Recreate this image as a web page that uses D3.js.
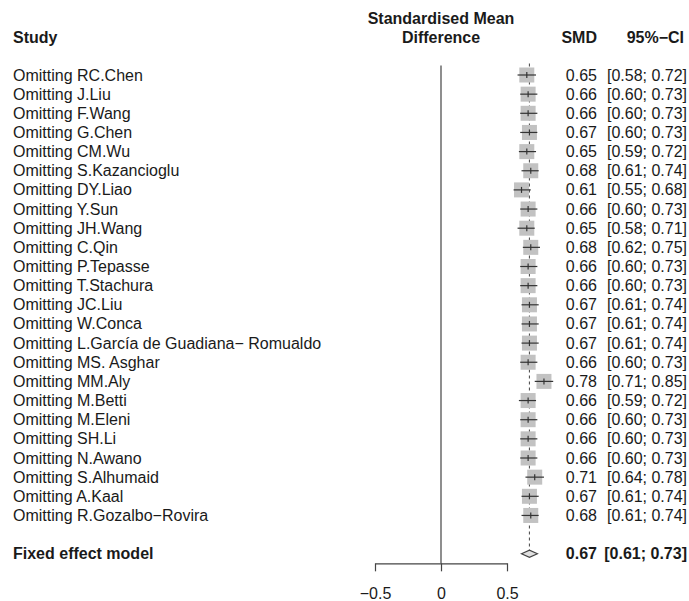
<!DOCTYPE html>
<html>
<head>
<meta charset="utf-8">
<script src="https://cdn.jsdelivr.net/npm/d3@7"></script>
<style>
body { margin: 0; background: #fff; }
text { font-family: "Liberation Sans", Arial, Helvetica, sans-serif; fill: #1a1a1a; }
</style>
</head>
<body>
<div id="canvas"></div>
<script>
// DATA -----------------------------------------------------
var studies = ["RC.Chen", "J.Liu", "F.Wang", "G.Chen", "CM.Wu", "S.Kazancioglu", "DY.Liao", "Y.Sun",
  "JH.Wang", "C.Qin", "P.Tepasse", "T.Stachura", "JC.Liu", "W.Conca",
  "L.García de Guadiana\u2212 Romualdo", "MS. Asghar", "MM.Aly", "M.Betti", "M.Eleni", "SH.Li",
  "N.Awano", "S.Alhumaid", "A.Kaal", "R.Gozalbo\u2212Rovira"];
var smd   = [0.65, 0.66, 0.66, 0.67, 0.65, 0.68, 0.61, 0.66, 0.65, 0.68, 0.66, 0.66, 0.67, 0.67, 0.67, 0.66, 0.78, 0.66, 0.66, 0.66, 0.66, 0.71, 0.67, 0.68];
var lower = [0.58, 0.60, 0.60, 0.60, 0.59, 0.61, 0.55, 0.60, 0.58, 0.62, 0.60, 0.60, 0.61, 0.61, 0.61, 0.60, 0.71, 0.59, 0.60, 0.60, 0.60, 0.64, 0.61, 0.61];
var upper = [0.72, 0.73, 0.73, 0.73, 0.72, 0.74, 0.68, 0.73, 0.71, 0.75, 0.73, 0.73, 0.74, 0.74, 0.74, 0.73, 0.85, 0.72, 0.73, 0.73, 0.73, 0.78, 0.74, 0.74];
var pooled = { label: "Fixed effect model", smd: 0.67, lower: 0.61, upper: 0.73 };
var tick_values = [-0.5, 0, 0.5];

// STRUCTURE ------------------------------------------------
var W = 689, H = 601;
var fs = 16;
var svg = d3.select("#canvas").append("svg")
  .attr("width", W).attr("height", H);

var rows = studies.map((s, i) => ({ label: "Omitting " + s, smd: smd[i], lower: lower[i], upper: upper[i], i: i }));
var pooled_row = rows.length + 1;

// scales
var x = d3.scaleLinear().domain([-0.5, 0.5]).range([375, 507]);
var y = d3.scaleLinear().domain([0, 1]).range([75, 94.15]);
var fmt = d3.format(".2f");

// HEADER ---------------------------------------------------
var head = svg.append("g").style("font-weight", "bold").style("font-size", fs + "px");
head.append("text").attr("x", 13).attr("y", 43).text("Study");
head.append("text").attr("x", x(0)).attr("y", 24).attr("text-anchor", "middle").text("Standardised Mean");
head.append("text").attr("x", x(0)).attr("y", 43).attr("text-anchor", "middle").text("Difference");
head.append("text").attr("x", 597).attr("y", 43).attr("text-anchor", "end").text("SMD");
head.append("text").attr("x", 684).attr("y", 43).attr("text-anchor", "end").text("95%\u2212CI");

// GFX ------------------------------------------------------
var gfx = svg.append("g");

// zero line
gfx.append("line")
  .attr("x1", x(0)).attr("x2", x(0))
  .attr("y1", y(-0.5)).attr("y2", y(pooled_row + 0.5))
  .attr("stroke", "#444").attr("stroke-width", 1.2);

// pooled dashed line
gfx.append("line")
  .attr("x1", x(pooled.smd)).attr("x2", x(pooled.smd))
  .attr("y1", y(-0.6)).attr("y2", y(pooled_row) - 3.5)
  .attr("stroke", "#555").attr("stroke-width", 1.1)
  .attr("stroke-dasharray", "3,3");

// study rows
var row_g = gfx.selectAll(".row").data(rows).enter().append("g").attr("class", "row");
var box = 15;
row_g.append("rect")
  .attr("x", d => x(d.smd) - box / 2)
  .attr("y", d => y(d.i) - box / 2)
  .attr("width", box).attr("height", box)
  .attr("fill", "#c2c2c2");
row_g.append("line")
  .attr("x1", d => x(d.lower)).attr("x2", d => x(d.upper))
  .attr("y1", d => y(d.i)).attr("y2", d => y(d.i))
  .attr("stroke", "#333").attr("stroke-width", 1.2);
row_g.append("line")
  .attr("x1", d => x(d.smd)).attr("x2", d => x(d.smd))
  .attr("y1", d => y(d.i) - 3).attr("y2", d => y(d.i) + 3)
  .attr("stroke", "#333").attr("stroke-width", 1.2);

// pooled diamond
var py = y(pooled_row);
gfx.append("path")
  .attr("d", `M${x(pooled.lower)},${py} L${x(pooled.smd)},${py - 3.5} L${x(pooled.upper)},${py} L${x(pooled.smd)},${py + 3.5} Z`)
  .attr("fill", "#e0e0e0").attr("stroke", "#444").attr("stroke-width", 1.2);

// TEXT -----------------------------------------------------
var txt = svg.append("g").style("font-size", fs + "px");
txt.selectAll(".lab").data(rows).enter().append("text")
  .attr("x", 13).attr("y", d => y(d.i) + 5.5).text(d => d.label);
txt.selectAll(".smd").data(rows).enter().append("text")
  .attr("x", 597).attr("y", d => y(d.i) + 5.5).attr("text-anchor", "end").text(d => fmt(d.smd));
txt.selectAll(".ci").data(rows).enter().append("text")
  .attr("x", 687).attr("y", d => y(d.i) + 5.5).attr("text-anchor", "end")
  .text(d => `[${fmt(d.lower)}; ${fmt(d.upper)}]`);

var ptxt = svg.append("g").style("font-size", fs + "px").style("font-weight", "bold");
ptxt.append("text").attr("x", 13).attr("y", py + 5.5).text(pooled.label);
ptxt.append("text").attr("x", 597).attr("y", py + 5.5).attr("text-anchor", "end").text(fmt(pooled.smd));
ptxt.append("text").attr("x", 687).attr("y", py + 5.5).attr("text-anchor", "end")
  .text(`[${fmt(pooled.lower)}; ${fmt(pooled.upper)}]`);

// AXIS -----------------------------------------------------
var axis = svg.append("g")
  .attr("transform", `translate(0, ${y(pooled_row + 0.5)})`)
  .call(d3.axisBottom(x).tickValues(tick_values).tickSize(8).tickSizeOuter(0).tickPadding(16)
    .tickFormat(d => d === 0 ? "0" : d3.format(".1f")(d)));
axis.select(".domain").attr("stroke", "#444").attr("stroke-width", 1.2);
axis.selectAll(".tick line").attr("stroke", "#444").attr("stroke-width", 1.2);
axis.selectAll(".tick text")
  .style("font-family", "\"Liberation Sans\", Arial, Helvetica, sans-serif")
  .style("font-size", fs + "px").attr("fill", "#1a1a1a");
</script>
</body>
</html>
